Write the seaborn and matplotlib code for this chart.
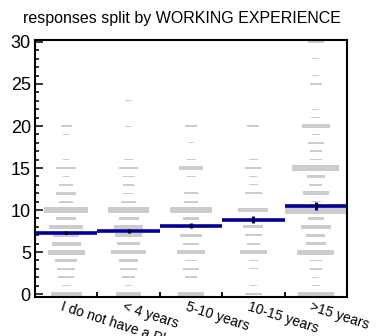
import numpy as np
import pandas as pd
import matplotlib
matplotlib.use("Agg")
import matplotlib.pyplot as plt
import matplotlib.transforms as mtransforms
import seaborn as sns

# experience groups on the x axis
categories = ["I do not have a PhD", "< 4 years", "5-10 years", "10-15 years", ">15 years"]

# answer values, one bin per unit
answer_bins = list(range(31))

# relative box size per bin (biggest cell = 1)
no_phd = [0.50, 0.14, 0.25, 0.29, 0.35, 0.59, 0.47, 0.41, 0.55, 0.33,
          0.70, 0.22, 0.33, 0.22, 0.11, 0.33, 0.10, 0.00, 0.00, 0.10,
          0.17, 0, 0, 0, 0, 0, 0, 0, 0, 0, 0]
under_4 = [0.40, 0.11, 0.21, 0.27, 0.30, 0.56, 0.36, 0.43, 0.46, 0.32,
           0.65, 0.24, 0.17, 0.17, 0.21, 0.30, 0.14, 0.00, 0.00, 0.00,
           0.12, 0.00, 0.00, 0.11, 0, 0, 0, 0, 0, 0, 0]
from_5_10 = [0.42, 0.00, 0.19, 0.26, 0.18, 0.45, 0.26, 0.35, 0.37, 0.27,
             0.66, 0.22, 0.24, 0.00, 0.16, 0.38, 0.16, 0.00, 0.10, 0.00,
             0.19, 0, 0, 0, 0, 0, 0, 0, 0, 0, 0]
from_10_15 = [0.28, 0.11, 0.00, 0.14, 0.14, 0.42, 0.21, 0.26, 0.32, 0.20,
              0.48, 0.00, 0.28, 0.14, 0.13, 0.26, 0.14, 0.00, 0.00, 0.00,
              0.19, 0.00, 0.00, 0.00, 0.00, 0.11, 0.00, 0.00, 0.00, 0.00,
              0.11]
over_15 = [0.57, 0.12, 0.11, 0.19, 0.19, 0.59, 0.32, 0.31, 0.49, 0.26,
           1.00, 0.16, 0.42, 0.21, 0.29, 0.75, 0.19, 0.19, 0.25, 0.13,
           0.44, 0.14, 0.11, 0.00, 0.00, 0.19, 0.11, 0.00, 0.11, 0.00,
           0.25]

# profile: mean and error per group
mean_values = [7.3, 7.55, 8.15, 8.85, 10.5]
mean_errors = [0.2, 0.25, 0.3, 0.45, 0.45]

box_sizes = [no_phd, under_4, from_5_10, from_10_15, over_15]

# long table of boxes
rows = []
for i, sizes in enumerate(box_sizes):
    for b, s in zip(answer_bins, sizes):
        if s > 0:
            rows.append({"group": i, "answer": b, "size": s})
df = pd.DataFrame(rows)
prof = pd.DataFrame({"group": range(len(categories)), "mean": mean_values, "err": mean_errors})

sns.set_theme(style="ticks")
plt.rcParams['font.family'] = ['Liberation Sans', 'DejaVu Sans']

fig = plt.figure(figsize=(3.9, 3.36), dpi=100)
ax = fig.add_axes([35 / 390, 39 / 336, 312 / 390, 256.7 / 336])

# box option: width and height both scale with the cell content
ax.bar(df["group"], df["size"], width=df["size"], bottom=df["answer"] - df["size"] / 2,
       color="#cccccc", linewidth=0, zorder=1)

navy = "#000099"
ax.hlines(prof["mean"], prof["group"] - 0.5, prof["group"] + 0.5, color=navy, lw=2.6, zorder=3)
ax.vlines(prof["group"], prof["mean"] - prof["err"], prof["mean"] + prof["err"], color=navy, lw=2.2, zorder=3)
sns.scatterplot(data=prof, x="group", y="mean", color="black", s=6, linewidth=0, ax=ax, zorder=4)

ax.set_xlim(-0.5, 4.5)
ax.set_ylim(-0.35, 30.2)
ax.set_xlabel("")
ax.set_ylabel("")

ax.set_yticks(range(0, 31, 5))
ax.set_yticks(range(31), minor=True)
ax.tick_params(axis="y", which="major", direction="in", length=5.8, width=1.1,
               labelsize=13, pad=3, left=True, right=False, color="black", labelcolor="black")
ax.tick_params(axis="y", which="minor", direction="in", length=2.9, width=1.1,
               left=True, right=False, color="black")

ax.set_xticks(range(len(categories)))
ax.set_xticks([0.5, 1.5, 2.5, 3.5], minor=True)
ax.set_xticklabels(categories, rotation=-18, ha="left", va="top", rotation_mode="anchor", fontsize=10)
ax.tick_params(axis="x", which="major", length=0, pad=2, labelcolor="black")
ax.tick_params(axis="x", which="minor", direction="in", length=3.6, width=1.3,
               bottom=True, top=False, color="black")
for lbl in ax.get_xticklabels():
    lbl.set_transform(lbl.get_transform() + mtransforms.Affine2D().translate(-3, 0))

for sp in ax.spines.values():
    sp.set_visible(True)
    sp.set_linewidth(1.5)
    sp.set_color("black")

fig.text(181.5 / 390, 1 - 23.5 / 336, "responses split by WORKING EXPERIENCE",
         ha="center", va="baseline", fontsize=11.5, color="black")

fig.savefig("out.png", dpi=100)
